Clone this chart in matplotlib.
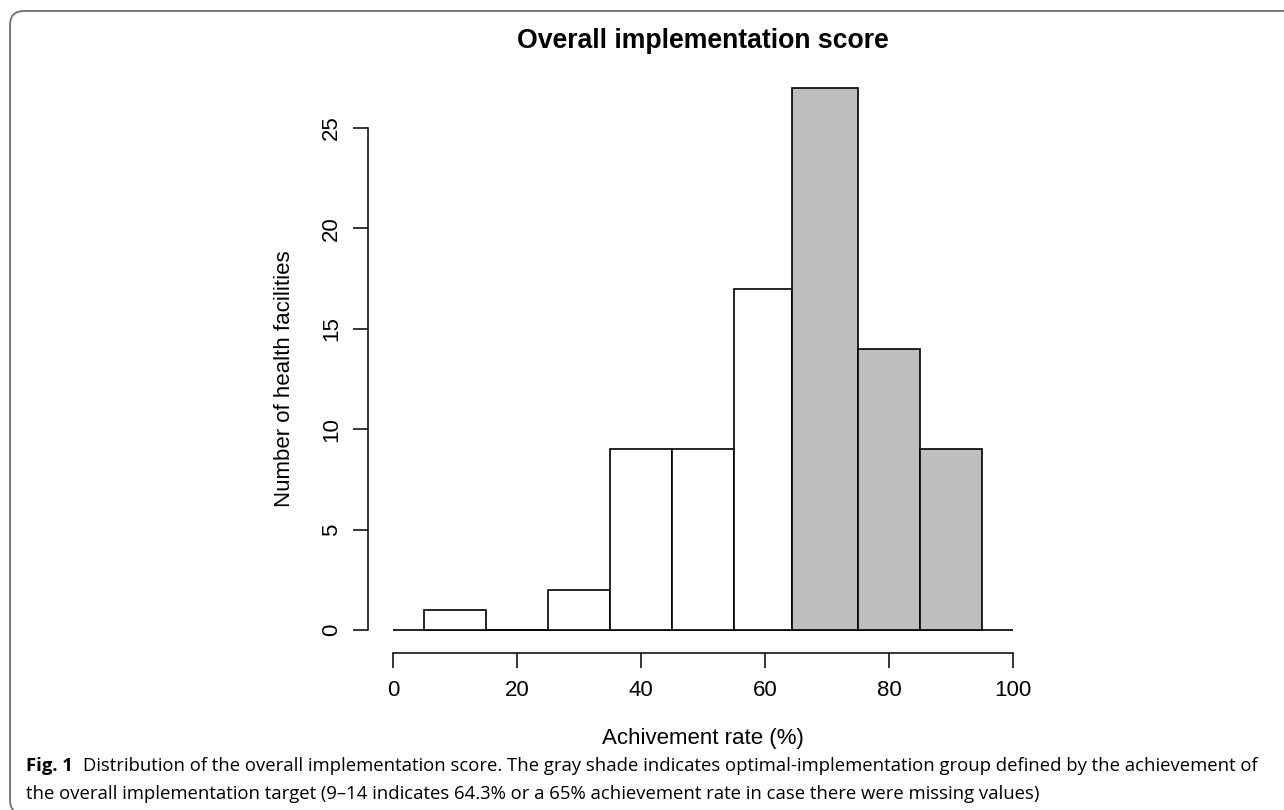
import numpy as np
import matplotlib
matplotlib.use("Agg")
import matplotlib.pyplot as plt
from matplotlib.patches import FancyBboxPatch

# histogram data
breaks = [5, 15, 25, 35, 45, 55, 64.3, 75, 85, 95]
counts = [1, 0, 2, 9, 9, 17, 27, 14, 9]
optimal_from = 64.3          # bins starting here are shaded
x_range = [0, 100]
xticks = [0, 20, 40, 60, 80, 100]
yticks = [0, 5, 10, 15, 20, 25]

title = "Overall implementation score"
xlab = "Achivement rate (%)"
ylab = "Number of health facilities"
cap_bold = "Fig. 1"
cap_line1 = "Distribution of the overall implementation score. The gray shade indicates optimal-implementation group defined by the achievement of"
cap_line2 = "the overall implementation target (9\u201314 indicates 64.3% or a 65% achievement rate in case there were missing values)"

W, H, DPI = 1284, 810, 100
plt.rcParams["font.family"] = ["Liberation Sans", "DejaVu Sans"]
fig = plt.figure(figsize=(W / DPI, H / DPI), dpi=DPI)

def px(x, y):
    return x / W, 1 - y / H

# plot region: x -4..104 -> 368..1038 px, y -1..26 -> 650..108 px
left, top = 368, 108
right, bottom = 1038, 650
ax = fig.add_axes([left / W, 1 - bottom / H, (right - left) / W, (bottom - top) / H])
ax.set_xlim(-4, 104)
ax.set_ylim(-1, 26)

lefts = np.array(breaks[:-1])
widths = np.diff(breaks)
colors = ["#bebebe" if l >= optimal_from - 1e-9 else "white" for l in lefts]
ax.hlines(0, x_range[0], x_range[1], color="black", lw=1.2, zorder=1)
ax.bar(lefts, counts, width=widths, align="edge", color=colors,
       edgecolor="black", linewidth=1.2, clip_on=False, zorder=2)

for s in ["top", "right"]:
    ax.spines[s].set_visible(False)
ax.spines["left"].set_bounds(yticks[0], yticks[-1])
ax.spines["bottom"].set_bounds(xticks[0], xticks[-1])
ax.spines["bottom"].set_position(("outward", 2))
for s in ["left", "bottom"]:
    ax.spines[s].set_linewidth(1.1)

ax.set_xticks(xticks)
ax.set_yticks(yticks)
ax.set_yticklabels([str(v) for v in yticks], rotation=90, va="center")
ax.tick_params(axis="both", length=10.8, width=1.1, labelsize=16)
ax.tick_params(axis="y", pad=8)
ax.tick_params(axis="x", pad=9)

fig.text(*px(703, 48), title, ha="center", va="baseline", fontsize=19.2, fontweight="bold")
fig.text(*px(703, 744), xlab, ha="center", va="baseline", fontsize=16)
fig.text(*px(285, 379), ylab, ha="center", va="center", rotation=90, fontsize=16)

# frame around the panel
fig.patches.append(FancyBboxPatch((10 / DPI, -4 / DPI), 1320 / DPI, 803 / DPI,
                                  boxstyle="round,pad=0,rounding_size=0.14",
                                  transform=fig.dpi_scale_trans, fill=False,
                                  edgecolor="#707070", linewidth=1.3))

# caption
cap_font = ["Open Sans", "DejaVu Sans"]
cap_size = 13
b = fig.text(*px(26, 771), cap_bold, ha="left", va="baseline", fontsize=cap_size,
             fontweight="bold", family=cap_font)
fig.canvas.draw()
r = fig.canvas.get_renderer()
bx = b.get_window_extent(r)
t1 = fig.text((bx.x1 + 10) / W, 1 - 771 / H, cap_line1, ha="left", va="baseline",
              fontsize=cap_size, family=cap_font)
fig.canvas.draw()
ext = t1.get_window_extent(r)
# scale caption so line 1 ends near x=1250
scale = (1250 - 26) / (ext.x1 - bx.x0)
cap_size *= scale
b.set_fontsize(cap_size)
fig.canvas.draw()
bx = b.get_window_extent(r)
t1.set_fontsize(cap_size)
t1.set_x((bx.x1 + 10 * scale) / W)
fig.text(*px(26, 799), cap_line2, ha="left", va="baseline", fontsize=cap_size, family=cap_font)

fig.savefig("out.png", dpi=DPI)
